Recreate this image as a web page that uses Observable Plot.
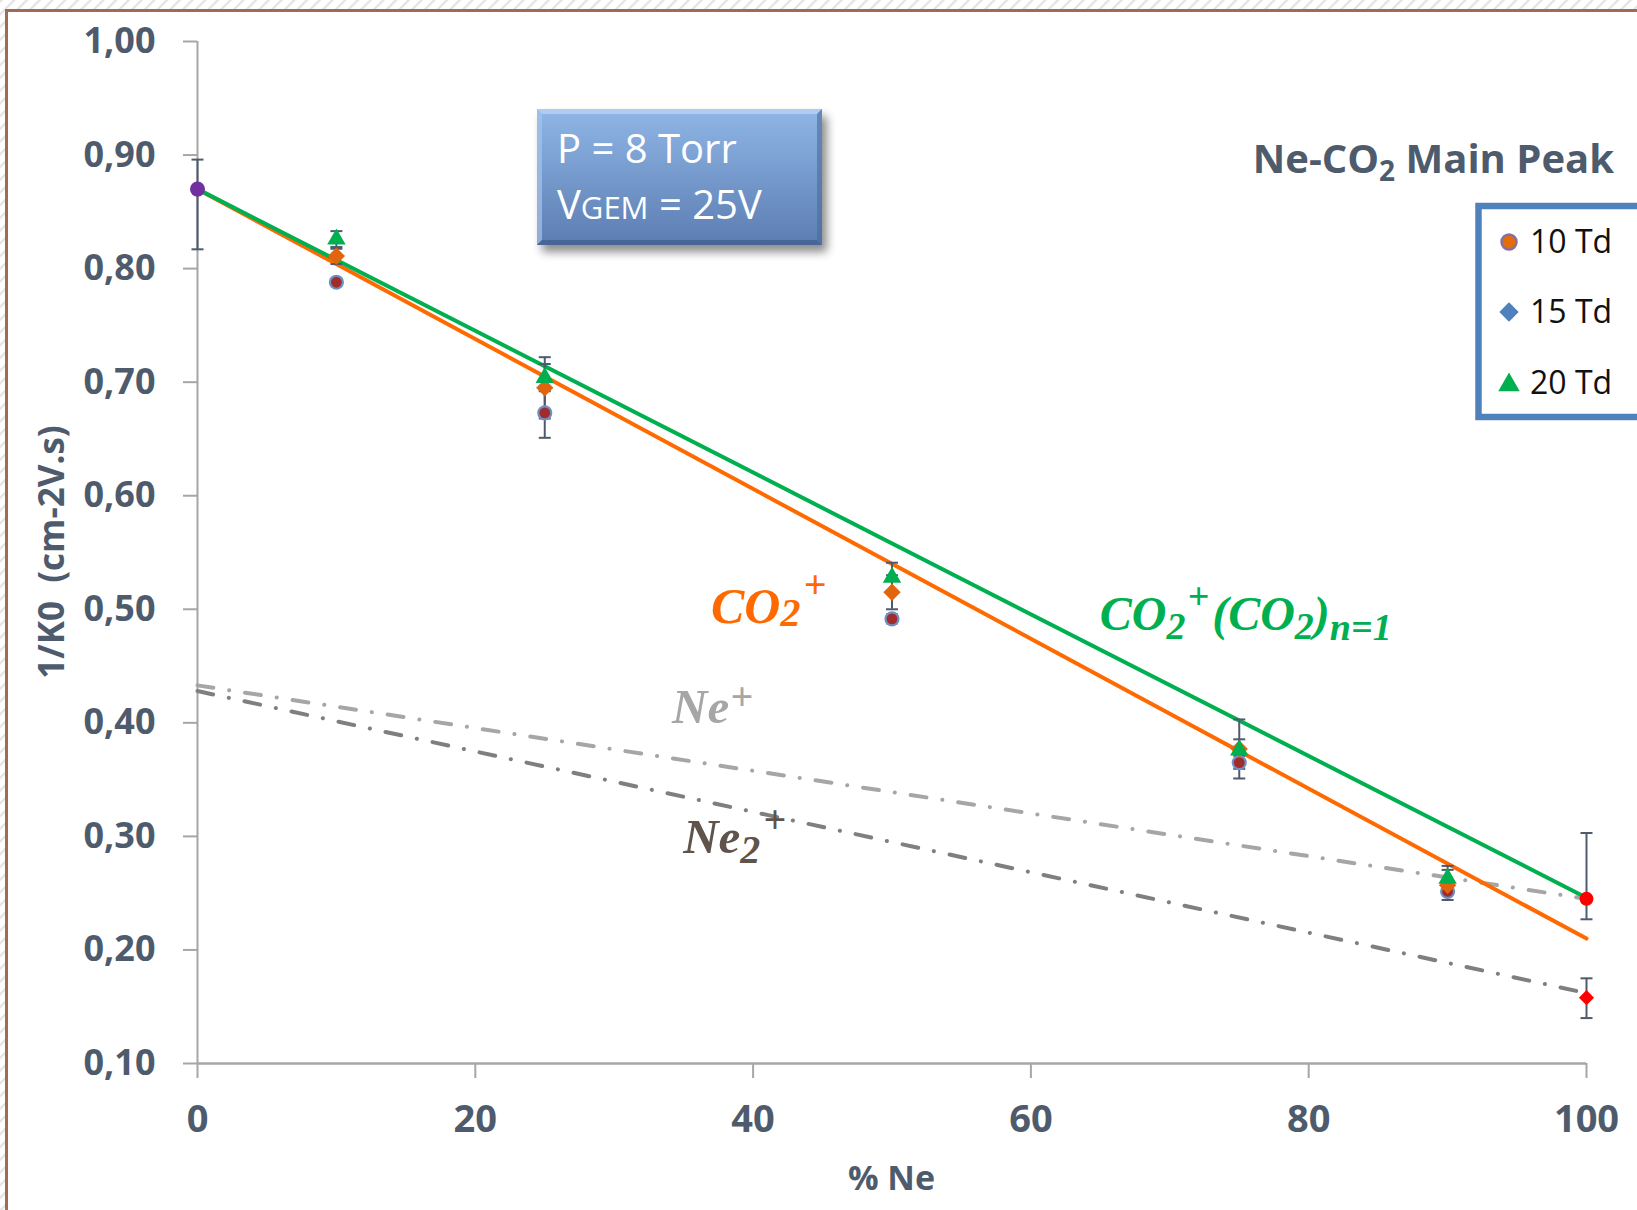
<!DOCTYPE html>
<html>
<head>
<meta charset="utf-8">
<script src="https://cdn.jsdelivr.net/npm/d3@7"></script>
<script src="https://cdn.jsdelivr.net/npm/@observablehq/plot@0.6"></script>
<style>
  body { margin: 0; background: #fff; }
  #chart svg { display: block; }
</style>
</head>
<body>
<div id="chart"></div>
<script>
// Inverse reduced mobility of the main Ne-CO2 ion peak versus neon fraction

// Mixtures (% Ne) and measured 1/K0 at three reduced fields
const pctNe = [10, 25, 50, 75, 90];

const td10 = [0.788, 0.673, 0.4915, 0.365, 0.2515];
const td10Lo = [0.785, 0.651, 0.4876, 0.3595, 0.249];
const td10Hi = [0.791, 0.695, 0.4955, 0.371, 0.254];

const td15 = [0.811, 0.695, 0.515, 0.377, 0.257];
const td15Lo = [0.804, 0.668, 0.500, 0.351, 0.244];
const td15Hi = [0.8175, 0.722, 0.530, 0.403, 0.2705];

const td20 = [0.826, 0.704, 0.528, 0.376, 0.263];
const td20Lo = [0.819, 0.692, 0.515, 0.366, 0.252];
const td20Hi = [0.833, 0.716, 0.541, 0.3855, 0.274];

// Pure gases: CO2 (0 %), Ne+ and Ne2+ in pure neon (100 %)
const pureX = [0, 100, 100];
const pureY = [0.870, 0.245, 0.158];
const pureLo = [0.817, 0.227, 0.140];
const pureHi = [0.896, 0.303, 0.175];

// Blanc's-law lines between the pure-gas mobilities
const fitX = [0, 100];
const co2Fit = [0.870, 0.210];
const clusterFit = [0.870, 0.246];
const nePlusFit = [0.433, 0.245];
const ne2PlusFit = [0.428, 0.162];

const legendLabels = ["10 Td", "15 Td", "20 Td"];
const yTicks = [0.10, 0.20, 0.30, 0.40, 0.50, 0.60, 0.70, 0.80, 0.90, 1.00];
const xTicks = [0, 20, 40, 60, 80, 100];

// ---- tables for the marks ----
const series = (ys, lo, hi) => pctNe.map((x, i) => ({x, y: ys[i], lo: lo[i], hi: hi[i]}));
const s10 = series(td10, td10Lo, td10Hi);
const s15 = series(td15, td15Lo, td15Hi);
const s20 = series(td20, td20Lo, td20Hi);
const pure = pureX.map((x, i) => ({x, y: pureY[i], lo: pureLo[i], hi: pureHi[i]}));
const fitRows = (ys) => fitX.map((x, i) => ({x, y: ys[i]}));

// flat horizontal cap used for error-bar ends
const capSymbol = {
  draw(ctx, size) {
    const w = Math.sqrt(size / Math.PI);
    ctx.moveTo(-w, 0);
    ctx.lineTo(w, 0);
  }
};

const ERR = "#4e5b6c";
const errorBars = (data, capR = 6) => [
  Plot.ruleX(data, {x: "x", y1: "lo", y2: "hi", stroke: ERR, strokeWidth: 2}),
  Plot.dot(data, {x: "x", y: "lo", symbol: capSymbol, r: capR, stroke: ERR, strokeWidth: 2, fill: "none"}),
  Plot.dot(data, {x: "x", y: "hi", symbol: capSymbol, r: capR, stroke: ERR, strokeWidth: 2, fill: "none"})
];

const dashDot = "16,16,0.1,16";
const axisColor = "#4e5b6c";

const plot = Plot.plot({
  width: 1637,
  height: 1210,
  marginLeft: 197,
  marginRight: 51,
  marginTop: 41,
  marginBottom: 147,
  x: {domain: [0, 100]},
  y: {domain: [0.1, 1.0]},
  style: {fontFamily: "'Open Sans', sans-serif", color: axisColor, background: "transparent", overflow: "visible"},
  marks: [
    // axis lines
    Plot.ruleX([0], {stroke: "#a6a6a6", strokeWidth: 2}),
    Plot.ruleY([0.1], {stroke: "#a6a6a6", strokeWidth: 2.5}),
    Plot.axisY(yTicks, {
      tickSize: 14, tickPadding: 28, stroke: "#a6a6a6", strokeWidth: 2,
      fill: axisColor, fontSize: 36, fontWeight: 700, label: null,
      tickFormat: (d) => d.toFixed(2).replace(".", ",")
    }),
    Plot.axisX(xTicks, {
      tickSize: 15, tickPadding: 27, stroke: "#a6a6a6", strokeWidth: 2,
      fill: axisColor, fontSize: 38, fontWeight: 700, label: null,
      tickFormat: (d) => String(d)
    }),

    // Ne+ / Ne2+ dash-dot lines
    Plot.line(fitRows(nePlusFit), {x: "x", y: "y", stroke: "#a6a6a6", strokeWidth: 4, strokeDasharray: dashDot, strokeLinecap: "round"}),
    Plot.line(fitRows(ne2PlusFit), {x: "x", y: "y", stroke: "#7f7f7f", strokeWidth: 4, strokeDasharray: dashDot, strokeLinecap: "round"}),
    // CO2+ and CO2+(CO2) lines
    Plot.line(fitRows(co2Fit), {x: "x", y: "y", stroke: "#ff6a00", strokeWidth: 4}),
    Plot.line(fitRows(clusterFit), {x: "x", y: "y", stroke: "#00b050", strokeWidth: 4}),

    // error bars
    ...errorBars(s10),
    ...errorBars(s15),
    ...errorBars(s20),
    ...errorBars(pure),

    // markers
    Plot.dot(s10, {x: "x", y: "y", r: 6.5, fill: "#a02c2c", stroke: "#7090c2", strokeWidth: 2.2}),
    Plot.dot(s15, {x: "x", y: "y", symbol: "diamond2", r: 7.8, fill: "#e0650c"}),
    Plot.dot(s20, {x: "x", y: "y", symbol: "triangle2", r: 8.8, fill: "#00b050"}),
    Plot.dot(pure.slice(0, 1), {x: "x", y: "y", r: 7.5, fill: "#7030a0"}),
    Plot.dot(pure.slice(1, 2), {x: "x", y: "y", r: 7, fill: "#ff0000"}),
    Plot.dot(pure.slice(2, 3), {x: "x", y: "y", symbol: "diamond2", r: 6.8, fill: "#ff0000"})
  ]
});

document.getElementById("chart").appendChild(plot);

// ---- decorations drawn onto the same SVG ----
const svg = d3.select(plot);
const sx = plot.scale("x");
const sy = plot.scale("y");
const W = 1637, H = 1210;

// backdrop: hatched surround and brown frame
const back = svg.insert("g", ":first-child");
const defs = svg.insert("defs", ":first-child");

const pat = defs.append("pattern").attr("id", "hatch")
  .attr("width", 9).attr("height", 9)
  .attr("patternUnits", "userSpaceOnUse")
  .attr("patternTransform", "rotate(45)");
pat.append("rect").attr("width", 9).attr("height", 9).attr("fill", "#fff");
pat.append("line").attr("x1", 1).attr("y1", 0).attr("x2", 1).attr("y2", 9)
  .attr("stroke", "#e3e3e3").attr("stroke-width", 2.5);

const grad = defs.append("linearGradient").attr("id", "boxFill")
  .attr("x1", 0).attr("y1", 0).attr("x2", 0).attr("y2", 1);
grad.append("stop").attr("offset", "0%").attr("stop-color", "#8fb6e6");
grad.append("stop").attr("offset", "100%").attr("stop-color", "#5c7db2");

const blur = defs.append("filter").attr("id", "shadow")
  .attr("x", "-20%").attr("y", "-20%").attr("width", "140%").attr("height", "140%");
blur.append("feGaussianBlur").attr("stdDeviation", 5);

back.append("rect").attr("width", W).attr("height", H).attr("fill", "url(#hatch)");
back.append("rect").attr("x", 6).attr("y", 10).attr("width", W).attr("height", H).attr("fill", "#fff");
back.append("path").attr("d", `M6.5,${H} V10.5 H${W}`)
  .attr("fill", "none").attr("stroke", "#a06b56").attr("stroke-width", 3);

const overlay = svg.append("g").attr("text-anchor", "start");

// rich text helper: parts = [{t, size, dy}] where dy is offset from the main baseline
function rich(g, x, y, parts, attrs) {
  const text = g.append("text").attr("x", x).attr("y", y)
    .attr("text-anchor", "start").style("white-space", "pre");
  for (const [k, v] of Object.entries(attrs)) text.attr(k, v);
  let cur = 0;
  for (const p of parts) {
    const off = p.dy || 0;
    const ts = text.append("tspan").text(p.t).attr("dy", off - cur);
    if (p.size) ts.attr("font-size", p.size);
    if (p.dx) ts.attr("dx", p.dx);
    cur = off;
  }
  return text;
}

// axis titles
overlay.append("text")
  .attr("transform", "translate(52,552) rotate(-90)")
  .attr("text-anchor", "middle")
  .attr("dy", "0.35em")
  .attr("font-size", 35).attr("font-weight", 700).attr("fill", axisColor)
  .style("white-space", "pre")
  .text("1/K0  (cm-2V.s)");

overlay.append("text")
  .attr("x", (sx.apply(0) + sx.apply(100)) / 2).attr("y", 1190)
  .attr("text-anchor", "middle")
  .attr("font-size", 34).attr("font-weight", 700).attr("fill", axisColor)
  .text("% Ne");

// chart title
rich(overlay, 1614, 173, [
  {t: "Ne-CO"}, {t: "2", size: 28, dy: 8}, {t: " Main Peak", dy: 0}
], {"text-anchor": "end", "font-size": 40, "font-weight": 700, fill: axisColor});

// ion labels
const ionFont = {"font-family": "'Liberation Serif', serif", "font-style": "italic", "font-weight": 700};
rich(overlay, sx.apply(37.0), sy.apply(0.4875), [
  {t: "CO", size: 50}, {t: "2", size: 40, dy: 3}, {t: "+", size: 40, dy: -25, dx: 3}
], {...ionFont, "font-size": 50, fill: "#ff6a00"});

rich(overlay, sx.apply(65.0), sy.apply(0.4813), [
  {t: "CO", size: 48}, {t: "2", size: 38, dy: 9}, {t: "+", size: 38, dy: -21, dx: 2},
  {t: "(CO", size: 48, dy: 0, dx: 3}, {t: "2", size: 38, dy: 9}, {t: ")", size: 48, dy: 0},
  {t: "n=1", size: 38, dy: 10}
], {...ionFont, "font-size": 48, fill: "#00b050"});

rich(overlay, sx.apply(34.2), sy.apply(0.3994), [
  {t: "Ne", size: 49}, {t: "+", size: 40, dy: -13, dx: 1}
], {...ionFont, "font-size": 49, fill: "#a6a6a6"});

rich(overlay, sx.apply(35.0), sy.apply(0.2850), [
  {t: "Ne", size: 49}, {t: "2", size: 40, dy: 10}, {t: "+", size: 40, dy: -20, dx: 3}
], {...ionFont, "font-size": 49, fill: "#5f534b"});

// conditions box
const box = overlay.append("g");
const bx = 537, by = 109, bw = 285, bh = 136, bev = 5;
box.append("rect").attr("x", bx + 5).attr("y", by + 7).attr("width", bw).attr("height", bh)
  .attr("fill", "#000").attr("opacity", 0.45).attr("filter", "url(#shadow)");
box.append("rect").attr("x", bx).attr("y", by).attr("width", bw).attr("height", bh).attr("fill", "url(#boxFill)");
box.append("path").attr("d", `M${bx},${by} H${bx + bw} L${bx + bw - bev},${by + bev} H${bx + bev} Z`)
  .attr("fill", "#b9d2f2").attr("opacity", 0.8);
box.append("path").attr("d", `M${bx},${by} V${by + bh} L${bx + bev},${by + bh - bev} V${by + bev} Z`)
  .attr("fill", "#a7c3ea").attr("opacity", 0.7);
box.append("path").attr("d", `M${bx},${by + bh} H${bx + bw} L${bx + bw - bev},${by + bh - bev} H${bx + bev} Z`)
  .attr("fill", "#3f5d8c").attr("opacity", 0.7);
box.append("path").attr("d", `M${bx + bw},${by} V${by + bh} L${bx + bw - bev},${by + bh - bev} V${by + bev} Z`)
  .attr("fill", "#4b6a9a").attr("opacity", 0.6);
box.append("text").attr("x", 557).attr("y", 163).attr("text-anchor", "start")
  .attr("font-size", 40).attr("fill", "#fff")
  .style("white-space", "pre")
  .text("P = 8 Torr");
rich(box, 557, 219, [
  {t: "V", size: 40}, {t: "GEM", size: 31}, {t: " = 25V", size: 40}
], {"font-size": 40, fill: "#fff"});

// legend
const leg = overlay.append("g");
leg.append("rect").attr("x", 1478.5).attr("y", 206).attr("width", 200).attr("height", 211)
  .attr("fill", "#fff").attr("stroke", "#4f81bd").attr("stroke-width", 6.5);
const legY = [242, 312, 383];
leg.append("circle").attr("cx", 1509).attr("cy", legY[0]).attr("r", 7.5)
  .attr("fill", "#e46c0a").attr("stroke", "#8a6e9c").attr("stroke-width", 2.5);
leg.append("path").attr("transform", `translate(1509,${legY[1]})`)
  .attr("d", d3.symbol(d3.symbolDiamond2, 240)()).attr("fill", "#4f81bd");
leg.append("path").attr("transform", `translate(1509,${legY[2] + 2})`)
  .attr("d", d3.symbol(d3.symbolTriangle2, 330)()).attr("fill", "#00b050");
legendLabels.forEach((lab, i) => {
  leg.append("text").attr("x", 1530).attr("y", legY[i] + 11).attr("text-anchor", "start")
    .attr("font-size", 32).attr("fill", "#111").text(lab);
});
</script>
</body>
</html>
